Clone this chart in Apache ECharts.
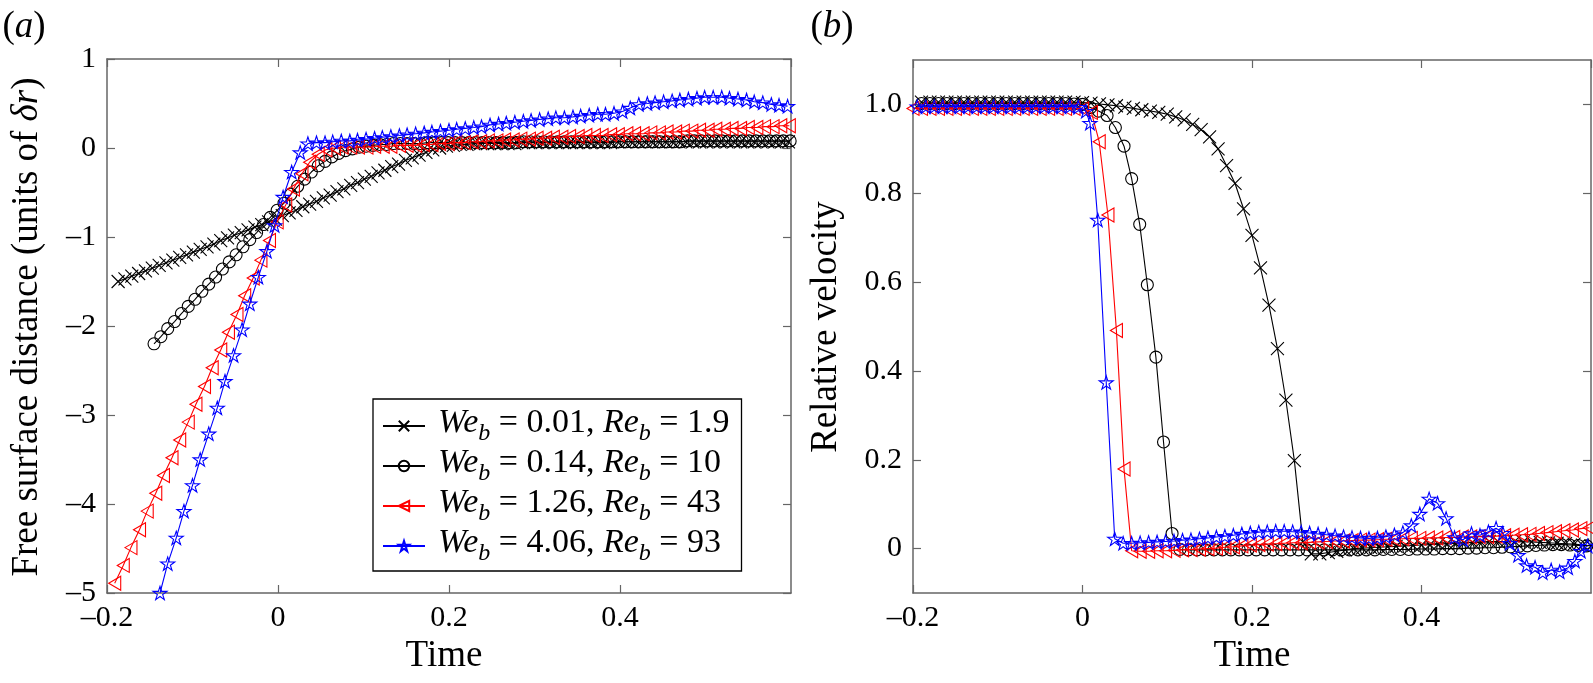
<!DOCTYPE html>
<html><head><meta charset="utf-8">
<script src="https://cdn.jsdelivr.net/npm/echarts@6/dist/echarts.min.js"></script>
<style>html,body{margin:0;padding:0;background:#fff}#c{width:1593px;height:683px}</style>
</head><body><div id="c"></div><script>
// ---------- DATA ----------
const legendNames = ['We_b = 0.01, Re_b = 1.9', 'We_b = 0.14, Re_b = 10', 'We_b = 1.26, Re_b = 43', 'We_b = 4.06, Re_b = 93'];
const weValues = ['0.01', '0.14', '1.26', '4.06'];
const reValues = ['1.9', '10', '43', '93'];
const xTicks = [-0.2, 0, 0.2, 0.4];
const leftYTicks = [-5, -4, -3, -2, -1, 0, 1];
const rightYTicks = [0, 0.2, 0.4, 0.6, 0.8, 1.0];

// (a) free surface distance, [time, value]
const leftCross = [[-0.187,-1.50],[-0.179,-1.47],[-0.171,-1.44],[-0.163,-1.41],[-0.155,-1.38],[-0.147,-1.35],[-0.139,-1.32],[-0.131,-1.29],[-0.123,-1.26],[-0.115,-1.23],[-0.107,-1.20],[-0.099,-1.17],[-0.091,-1.14],[-0.083,-1.11],[-0.075,-1.08],[-0.067,-1.04],[-0.059,-1.01],[-0.051,-0.98],[-0.043,-0.95],[-0.035,-0.92],[-0.027,-0.89],[-0.019,-0.86],[-0.011,-0.83],[-0.003,-0.80],[0.005,-0.76],[0.013,-0.73],[0.021,-0.70],[0.029,-0.66],[0.037,-0.63],[0.045,-0.60],[0.053,-0.56],[0.061,-0.53],[0.069,-0.49],[0.077,-0.46],[0.085,-0.42],[0.093,-0.39],[0.101,-0.35],[0.109,-0.32],[0.117,-0.28],[0.125,-0.25],[0.133,-0.21],[0.141,-0.18],[0.149,-0.14],[0.157,-0.11],[0.165,-0.08],[0.173,-0.05],[0.181,-0.02],[0.189,0.00],[0.197,0.02],[0.205,0.03],[0.213,0.04],[0.221,0.04],[0.229,0.05],[0.237,0.05],[0.245,0.05],[0.253,0.05],[0.261,0.05],[0.269,0.05],[0.277,0.05],[0.285,0.06],[0.293,0.06],[0.301,0.06],[0.309,0.06],[0.317,0.06],[0.325,0.06],[0.333,0.06],[0.341,0.06],[0.349,0.06],[0.357,0.06],[0.365,0.06],[0.373,0.06],[0.381,0.06],[0.389,0.06],[0.397,0.07],[0.405,0.07],[0.413,0.07],[0.421,0.07],[0.429,0.07],[0.437,0.07],[0.445,0.07],[0.453,0.07],[0.461,0.07],[0.469,0.07],[0.477,0.07],[0.485,0.07],[0.493,0.07],[0.501,0.07],[0.509,0.07],[0.517,0.07],[0.525,0.07],[0.533,0.07],[0.541,0.07],[0.549,0.07],[0.557,0.07],[0.565,0.07],[0.573,0.07],[0.581,0.07],[0.589,0.07],[0.597,0.07]];
const leftCircle = [[-0.145,-2.20],[-0.137,-2.12],[-0.129,-2.03],[-0.121,-1.95],[-0.113,-1.86],[-0.105,-1.78],[-0.097,-1.70],[-0.089,-1.61],[-0.081,-1.53],[-0.073,-1.45],[-0.065,-1.36],[-0.057,-1.28],[-0.049,-1.20],[-0.041,-1.11],[-0.033,-1.03],[-0.025,-0.95],[-0.017,-0.86],[-0.009,-0.78],[-0.001,-0.70],[0.007,-0.62],[0.015,-0.52],[0.023,-0.43],[0.031,-0.35],[0.039,-0.27],[0.047,-0.20],[0.055,-0.15],[0.063,-0.10],[0.071,-0.06],[0.079,-0.03],[0.087,-0.01],[0.095,0.01],[0.103,0.02],[0.111,0.03],[0.119,0.04],[0.127,0.04],[0.135,0.05],[0.143,0.05],[0.151,0.05],[0.159,0.05],[0.167,0.05],[0.175,0.06],[0.183,0.06],[0.191,0.06],[0.199,0.06],[0.207,0.06],[0.215,0.06],[0.223,0.06],[0.231,0.06],[0.239,0.06],[0.247,0.06],[0.255,0.06],[0.263,0.06],[0.271,0.06],[0.279,0.06],[0.287,0.07],[0.295,0.07],[0.303,0.07],[0.311,0.07],[0.319,0.07],[0.327,0.07],[0.335,0.07],[0.343,0.07],[0.351,0.07],[0.359,0.07],[0.367,0.07],[0.375,0.07],[0.383,0.07],[0.391,0.07],[0.399,0.07],[0.407,0.07],[0.415,0.07],[0.423,0.07],[0.431,0.07],[0.439,0.07],[0.447,0.07],[0.455,0.07],[0.463,0.07],[0.471,0.07],[0.479,0.08],[0.487,0.08],[0.495,0.08],[0.503,0.08],[0.511,0.08],[0.519,0.08],[0.527,0.08],[0.535,0.08],[0.543,0.08],[0.551,0.08],[0.559,0.08],[0.567,0.08],[0.575,0.08],[0.583,0.08],[0.591,0.08],[0.599,0.08]];
const leftTri = [[-0.191,-4.89],[-0.181,-4.69],[-0.172,-4.49],[-0.162,-4.29],[-0.153,-4.08],[-0.143,-3.88],[-0.134,-3.68],[-0.124,-3.48],[-0.115,-3.28],[-0.105,-3.08],[-0.096,-2.88],[-0.086,-2.68],[-0.077,-2.47],[-0.067,-2.27],[-0.058,-2.07],[-0.048,-1.87],[-0.039,-1.66],[-0.029,-1.46],[-0.020,-1.26],[-0.010,-1.04],[-0.001,-0.83],[0.009,-0.64],[0.018,-0.46],[0.028,-0.29],[0.037,-0.16],[0.047,-0.07],[0.056,-0.02],[0.066,0.00],[0.075,0.01],[0.085,0.01],[0.094,0.01],[0.104,0.01],[0.113,0.02],[0.123,0.02],[0.132,0.02],[0.142,0.03],[0.151,0.03],[0.161,0.03],[0.170,0.04],[0.180,0.04],[0.189,0.05],[0.199,0.05],[0.208,0.06],[0.218,0.06],[0.227,0.07],[0.237,0.07],[0.246,0.08],[0.256,0.08],[0.265,0.09],[0.275,0.09],[0.284,0.10],[0.294,0.10],[0.303,0.11],[0.313,0.11],[0.322,0.12],[0.332,0.12],[0.341,0.13],[0.351,0.13],[0.360,0.14],[0.370,0.14],[0.379,0.14],[0.389,0.15],[0.398,0.15],[0.408,0.16],[0.417,0.16],[0.427,0.16],[0.436,0.17],[0.446,0.17],[0.455,0.18],[0.465,0.18],[0.474,0.19],[0.484,0.19],[0.493,0.20],[0.503,0.20],[0.512,0.21],[0.522,0.21],[0.531,0.22],[0.541,0.22],[0.550,0.23],[0.560,0.23],[0.569,0.24],[0.579,0.24],[0.588,0.25],[0.598,0.25]];
const leftStar = [[-0.138,-5.00],[-0.129,-4.67],[-0.119,-4.38],[-0.110,-4.08],[-0.100,-3.79],[-0.091,-3.50],[-0.081,-3.21],[-0.071,-2.92],[-0.062,-2.62],[-0.052,-2.33],[-0.042,-2.04],[-0.033,-1.75],[-0.023,-1.45],[-0.013,-1.16],[-0.004,-0.87],[0.006,-0.55],[0.016,-0.27],[0.026,-0.05],[0.035,0.05],[0.045,0.06],[0.055,0.06],[0.064,0.07],[0.074,0.08],[0.084,0.08],[0.093,0.09],[0.103,0.10],[0.113,0.11],[0.122,0.12],[0.132,0.13],[0.142,0.14],[0.151,0.15],[0.161,0.16],[0.171,0.17],[0.180,0.18],[0.190,0.19],[0.200,0.20],[0.209,0.21],[0.219,0.22],[0.229,0.23],[0.238,0.24],[0.248,0.26],[0.258,0.27],[0.267,0.28],[0.277,0.29],[0.287,0.30],[0.296,0.31],[0.306,0.32],[0.316,0.33],[0.325,0.34],[0.335,0.34],[0.345,0.35],[0.354,0.36],[0.364,0.37],[0.374,0.38],[0.383,0.38],[0.393,0.39],[0.403,0.41],[0.412,0.45],[0.422,0.49],[0.432,0.50],[0.441,0.51],[0.451,0.52],[0.461,0.53],[0.470,0.54],[0.480,0.55],[0.490,0.56],[0.499,0.57],[0.509,0.57],[0.519,0.57],[0.528,0.56],[0.538,0.55],[0.548,0.54],[0.557,0.52],[0.567,0.51],[0.577,0.49],[0.586,0.48],[0.596,0.47]];

// (b) relative velocity, [time, value]
const rightCross = [[-0.19,1.005],[-0.18,1.005],[-0.17,1.005],[-0.16,1.005],[-0.15,1.005],[-0.14,1.005],[-0.13,1.005],[-0.12,1.005],[-0.11,1.005],[-0.10,1.005],[-0.09,1.005],[-0.08,1.005],[-0.07,1.005],[-0.06,1.005],[-0.05,1.005],[-0.04,1.005],[-0.03,1.005],[-0.02,1.005],[-0.01,1.005],[0.00,1.004],[0.01,1.003],[0.02,1.001],[0.03,0.999],[0.04,0.997],[0.05,0.994],[0.06,0.991],[0.07,0.988],[0.08,0.985],[0.09,0.982],[0.10,0.978],[0.11,0.972],[0.12,0.965],[0.13,0.955],[0.14,0.943],[0.15,0.927],[0.16,0.900],[0.17,0.862],[0.18,0.822],[0.19,0.765],[0.20,0.705],[0.21,0.632],[0.22,0.548],[0.23,0.450],[0.24,0.334],[0.25,0.198],[0.26,0.015],[0.27,-0.012],[0.28,-0.012],[0.29,-0.009],[0.30,-0.006],[0.31,-0.003],[0.32,0.000],[0.33,0.001],[0.34,0.002],[0.35,0.003],[0.36,0.004],[0.37,0.005],[0.38,0.006],[0.39,0.007],[0.40,0.008],[0.41,0.009],[0.42,0.010],[0.43,0.011],[0.44,0.012],[0.45,0.013],[0.46,0.014],[0.47,0.015],[0.48,0.016],[0.49,0.016],[0.50,0.016],[0.51,0.016],[0.52,0.015],[0.53,0.015],[0.54,0.014],[0.55,0.013],[0.56,0.012],[0.57,0.011],[0.58,0.010],[0.59,0.008],[0.60,0.006]];
const rightCircle = [[-0.19,1.002],[-0.18,1.002],[-0.17,1.002],[-0.16,1.002],[-0.15,1.002],[-0.14,1.002],[-0.13,1.002],[-0.12,1.002],[-0.11,1.002],[-0.10,1.002],[-0.09,1.002],[-0.08,1.002],[-0.07,1.002],[-0.06,1.002],[-0.05,1.002],[-0.04,1.002],[-0.03,1.002],[-0.02,1.002],[-0.01,1.001],[0.000,1.000],[0.0095,0.993],[0.019,0.985],[0.029,0.975],[0.0388,0.948],[0.049,0.906],[0.058,0.833],[0.0675,0.730],[0.0765,0.594],[0.0866,0.431],[0.0956,0.240],[0.1057,0.034],[0.115,-0.002],[0.125,-0.003],[0.135,-0.003],[0.145,-0.003],[0.155,-0.003],[0.165,-0.003],[0.175,-0.003],[0.185,-0.003],[0.195,-0.003],[0.205,-0.003],[0.215,-0.003],[0.225,-0.003],[0.235,-0.003],[0.245,-0.003],[0.255,-0.003],[0.265,-0.003],[0.275,-0.003],[0.285,-0.003],[0.295,-0.003],[0.305,-0.003],[0.315,-0.003],[0.325,-0.003],[0.335,-0.003],[0.345,-0.003],[0.355,-0.002],[0.365,-0.002],[0.375,-0.002],[0.385,-0.002],[0.395,-0.001],[0.405,-0.001],[0.415,-0.001],[0.425,0.000],[0.435,0.000],[0.445,0.000],[0.455,0.001],[0.465,0.001],[0.475,0.002],[0.485,0.002],[0.495,0.003],[0.505,0.004],[0.515,0.005],[0.525,0.006],[0.535,0.007],[0.545,0.008],[0.555,0.009],[0.565,0.009],[0.575,0.008],[0.585,0.007],[0.595,0.006]];
const rightTri = [[-0.20,0.991],[-0.19,0.991],[-0.18,0.991],[-0.17,0.991],[-0.16,0.991],[-0.15,0.991],[-0.14,0.991],[-0.13,0.991],[-0.12,0.991],[-0.11,0.991],[-0.10,0.991],[-0.09,0.991],[-0.08,0.991],[-0.07,0.991],[-0.06,0.991],[-0.05,0.991],[-0.04,0.991],[-0.03,0.991],[-0.02,0.991],[-0.01,0.991],[0.000,0.990],[0.0105,0.982],[0.0197,0.916],[0.030,0.751],[0.040,0.491],[0.049,0.179],[0.058,-0.005],[0.068,-0.006],[0.078,-0.006],[0.088,-0.005],[0.098,-0.005],[0.108,-0.004],[0.118,-0.003],[0.128,-0.002],[0.138,-0.001],[0.148,0.000],[0.158,0.001],[0.168,0.003],[0.178,0.004],[0.188,0.006],[0.198,0.008],[0.208,0.009],[0.218,0.010],[0.228,0.011],[0.238,0.012],[0.248,0.013],[0.258,0.013],[0.268,0.014],[0.278,0.015],[0.288,0.016],[0.298,0.017],[0.308,0.017],[0.318,0.018],[0.328,0.019],[0.338,0.019],[0.348,0.020],[0.358,0.021],[0.368,0.021],[0.378,0.022],[0.388,0.023],[0.398,0.023],[0.408,0.024],[0.418,0.024],[0.428,0.025],[0.438,0.025],[0.448,0.026],[0.458,0.026],[0.468,0.027],[0.478,0.027],[0.488,0.028],[0.498,0.029],[0.508,0.030],[0.518,0.031],[0.528,0.032],[0.538,0.034],[0.548,0.036],[0.558,0.038],[0.568,0.040],[0.578,0.042],[0.588,0.045],[0.598,0.047]];
const rightStar = [[-0.195,0.995],[-0.185,0.995],[-0.175,0.995],[-0.165,0.995],[-0.155,0.995],[-0.145,0.995],[-0.135,0.995],[-0.125,0.995],[-0.115,0.995],[-0.105,0.995],[-0.095,0.995],[-0.085,0.995],[-0.075,0.995],[-0.065,0.995],[-0.055,0.995],[-0.045,0.995],[-0.035,0.995],[-0.025,0.995],[-0.015,0.995],[-0.005,0.994],[0.004,0.985],[0.0088,0.958],[0.018,0.740],[0.028,0.374],[0.038,0.022],[0.048,0.012],[0.058,0.012],[0.068,0.013],[0.078,0.014],[0.088,0.015],[0.098,0.016],[0.108,0.017],[0.118,0.019],[0.128,0.020],[0.138,0.022],[0.148,0.024],[0.158,0.026],[0.168,0.028],[0.178,0.030],[0.188,0.033],[0.198,0.035],[0.208,0.037],[0.218,0.038],[0.228,0.039],[0.238,0.039],[0.248,0.038],[0.258,0.037],[0.268,0.035],[0.278,0.033],[0.288,0.031],[0.298,0.029],[0.308,0.027],[0.318,0.025],[0.328,0.024],[0.338,0.023],[0.348,0.024],[0.358,0.027],[0.368,0.031],[0.378,0.036],[0.388,0.052],[0.398,0.078],[0.409,0.112],[0.419,0.102],[0.429,0.068],[0.439,0.025],[0.449,0.020],[0.459,0.034],[0.469,0.030],[0.479,0.038],[0.488,0.046],[0.496,0.035],[0.504,0.012],[0.514,-0.015],[0.524,-0.038],[0.534,-0.042],[0.543,-0.054],[0.553,-0.048],[0.563,-0.052],[0.573,-0.043],[0.581,-0.028],[0.588,-0.006],[0.596,0.006]];

// ---------- STYLE ----------
const FONT = "'Liberation Serif', 'Times New Roman', Times, serif";
const FRAME = '#666666';
const crossPath = 'path://M0,0L10,10M10,0L0,10';
const circleSym = 'circle';
const triLeftPath = 'path://M0,50L86,0L86,100Z';
const starPath = 'path://M50,2L61.2,36.5L97.6,36.5L68.2,57.9L79.4,92.5L50,71.1L20.6,92.5L31.8,57.9L2.4,36.5L38.8,36.5Z';
const symbols = [crossPath, circleSym, triLeftPath, starPath];
const symSizes = [13, 12, 14, 14];
const colors = ['#000000', '#000000', '#ff0000', '#0000ff'];
const HOLLOW = 'rgba(255,255,255,0)';

function mk(data, k, panel) {
  return {
    type: 'line', name: legendNames[k], data: data,
    xAxisIndex: panel * 2, yAxisIndex: panel * 2,
    symbol: symbols[k], symbolSize: symSizes[k], symbolKeepAspect: true,
    showSymbol: true, showAllSymbol: true, clip: false, silent: true,
    color: colors[k],
    lineStyle: { color: colors[k], width: 1.1 },
    itemStyle: { color: HOLLOW, borderColor: colors[k], borderWidth: 1.1 },
    emphasis: { disabled: true }, z: 2 + k
  };
}

function fmtX(v) {
  if (Math.abs(v) < 1e-9) return '0';
  return v < 0 ? '\u2013' + (-v).toFixed(1) : v.toFixed(1);
}
function fmtYL(v) {
  if (Math.abs(v) < 1e-9) return '0';
  return v < 0 ? '\u2013' + (-v) : String(v);
}
function fmtYR(v) {
  if (Math.abs(v) < 1e-9) return '0';
  return v.toFixed(1);
}

const lab = { color: '#000', fontFamily: FONT, fontSize: 30 };
function xAxisDef(grid, pos, showLabel) {
  return {
    type: 'value', gridIndex: grid, position: pos, min: -0.2, max: 0.6, interval: 0.2,
    axisLine: { show: true, onZero: false, lineStyle: { color: FRAME, width: 1.5 } },
    axisTick: { show: true, inside: true, length: 8, lineStyle: { color: FRAME, width: 1.2 } },
    axisLabel: Object.assign({ show: showLabel, margin: 10, showMaxLabel: false, formatter: fmtX }, lab),
    splitLine: { show: false }
  };
}
function yLeftDef(grid, pos, showLabel) {
  return {
    type: 'value', gridIndex: grid, position: pos, min: -5, max: 1, interval: 1,
    axisLine: { show: true, onZero: false, lineStyle: { color: FRAME, width: 1.5 } },
    axisTick: { show: true, inside: true, length: 8, lineStyle: { color: FRAME, width: 1.2 } },
    axisLabel: Object.assign({ show: showLabel, margin: 11, formatter: fmtYL }, lab),
    splitLine: { show: false }
  };
}
function yRightDef(grid, pos, showLabel) {
  return {
    type: 'value', gridIndex: grid, position: pos, min: -0.1, max: 1.1, interval: 0.1,
    axisLine: { show: true, onZero: false, lineStyle: { color: FRAME, width: 1.5 } },
    axisTick: { show: true, inside: true, length: 8, customValues: rightYTicks, lineStyle: { color: FRAME, width: 1.2 } },
    axisLabel: Object.assign({ show: showLabel, margin: 11, customValues: rightYTicks, formatter: fmtYR }, lab),
    splitLine: { show: false }
  };
}

const legendRich = {
  it0: { fontFamily: FONT, fontStyle: 'italic', fontSize: 34, lineHeight: 34, verticalAlign: 'top', padding: [0, 0, 0, 8], color: '#000' },
  it: { fontFamily: FONT, fontStyle: 'italic', fontSize: 34, lineHeight: 34, verticalAlign: 'top', color: '#000' },
  n: { fontFamily: FONT, fontSize: 34, lineHeight: 34, verticalAlign: 'top', color: '#000' },
  sub: { fontFamily: FONT, fontStyle: 'italic', fontSize: 24, lineHeight: 40, verticalAlign: 'bottom', color: '#000' }
};

const italicRich = { i: { fontFamily: FONT, fontStyle: 'italic', fontSize: 37, color: '#000' } };
function txt(x, y, text, rot) {
  return {
    type: 'text', x: x, y: y, rotation: rot || 0, silent: true,
    style: { text: text, fontFamily: FONT, fontSize: 37, fill: '#000', align: 'center', verticalAlign: 'middle', rich: italicRich }
  };
}

const option = {
  backgroundColor: '#ffffff',
  animation: false,
  grid: [
    { left: 107, right: 1593 - 791, top: 59, bottom: 683 - 593 },
    { left: 913, right: 2, top: 60, bottom: 683 - 593 }
  ],
  xAxis: [xAxisDef(0, 'bottom', true), xAxisDef(0, 'top', false), xAxisDef(1, 'bottom', true), xAxisDef(1, 'top', false)],
  yAxis: [yLeftDef(0, 'left', true), yLeftDef(0, 'right', false), yRightDef(1, 'left', true), yRightDef(1, 'right', false)],
  legend: {
    data: legendNames, orient: 'vertical', left: 373, top: 399,
    padding: [7, 12, 5, 9], itemGap: 0, itemWidth: 42, itemHeight: 13,
    backgroundColor: '#fff', borderColor: '#000', borderWidth: 1.3,
    selectedMode: false, symbolRotate: 'inherit',
    itemStyle: { color: HOLLOW },
    textStyle: { fontFamily: FONT, fontSize: 34, color: '#000', rich: legendRich },
    formatter: function (name) {
      const i = legendNames.indexOf(name);
      return '{it0|We}{sub|b}{n| = ' + weValues[i] + ', }{it|Re}{sub|b}{n| = ' + reValues[i] + '}';
    }
  },
  graphic: [
    txt(24, 27, '({i|a})'),
    txt(832, 27, '({i|b})'),
    txt(444, 656, 'Time'),
    txt(1252, 656, 'Time'),
    txt(27, 327, 'Free surface distance (units of {i|\u03b4r})', Math.PI / 2),
    txt(826, 327, 'Relative velocity', Math.PI / 2)
  ],
  series: [
    mk(leftCross, 0, 0), mk(leftCircle, 1, 0), mk(leftTri, 2, 0), mk(leftStar, 3, 0),
    mk(rightCross, 0, 1), mk(rightCircle, 1, 1), mk(rightTri, 2, 1), mk(rightStar, 3, 1)
  ]
};

const chart = echarts.init(document.getElementById('c'));
chart.setOption(option);
</script></body></html>
